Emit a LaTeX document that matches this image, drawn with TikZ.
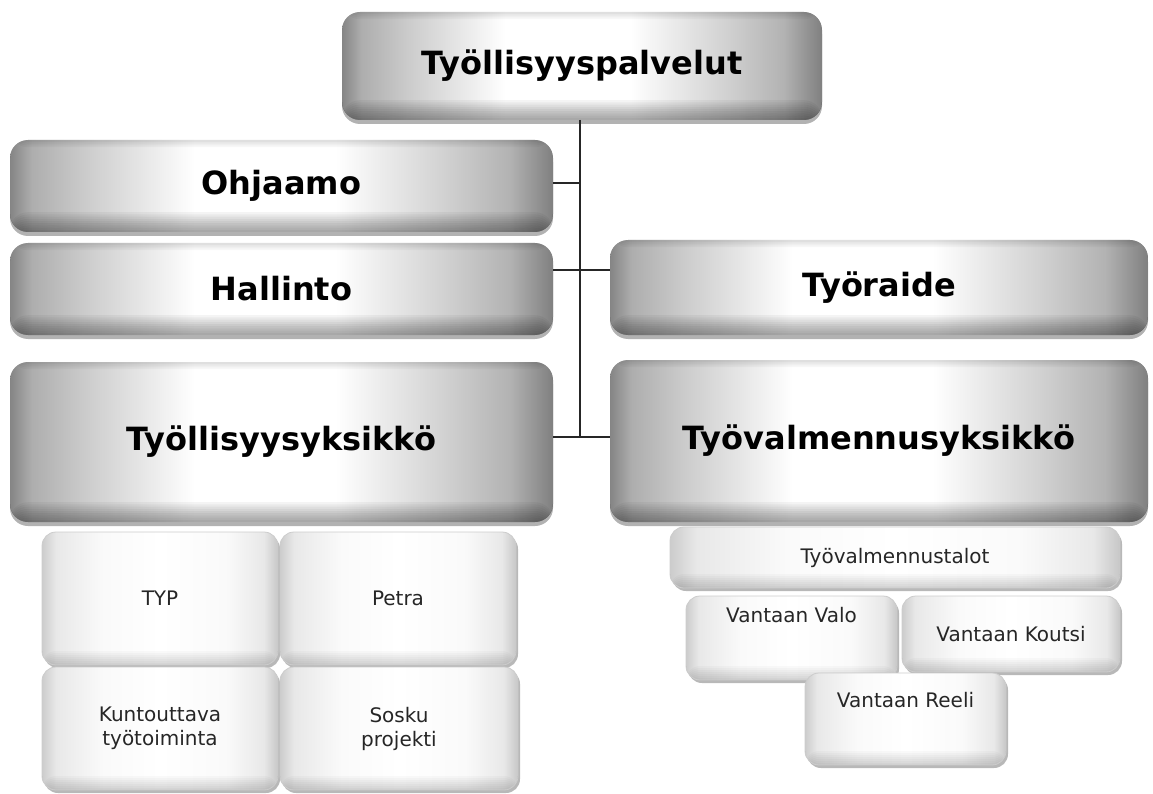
\documentclass[tikz,border=0pt]{standalone}
\usepackage{fontspec}
\setmainfont{DejaVu Sans}
\usetikzlibrary{shadows}
\pgfdeclarehorizontalshading{bigshade}{100bp}{color(0bp)=(black!48); color(25bp)=(black!48); color(27bp)=(black!32); color(32bp)=(black!20); color(42bp)=(white); color(55bp)=(white); color(65bp)=(black!18); color(71bp)=(black!30); color(75bp)=(black!50); color(100bp)=(black!50)}
\pgfdeclarehorizontalshading{smallshade}{100bp}{color(0bp)=(black!20); color(25bp)=(black!20); color(28bp)=(black!9); color(38bp)=(black!2); color(50bp)=(white); color(64bp)=(black!2); color(72bp)=(black!9); color(75bp)=(black!22); color(100bp)=(black!22)}
\begin{document}
\begin{tikzpicture}[x=1pt,y=-1pt,
  bigbox/.style={rounded corners=18pt, shade, shading=bigshade, draw=none,
    font=\bfseries\fontsize{32}{36}\selectfont, text=black,
    inner sep=0pt, outer sep=0pt,
    drop shadow={shadow xshift=0pt, shadow yshift=-4pt, opacity=.3, fill=black},
    path picture={\foreach \i in {1,...,9}{\fill[black, fill opacity=.045]
      (path picture bounding box.south west) rectangle ([yshift=\i*2.2pt]path picture bounding box.south east);}
      \foreach \i in {1,...,4}{\fill[black, fill opacity=.03]
      (path picture bounding box.north west) rectangle ([yshift=-\i*1.8pt]path picture bounding box.north east);}}},
  smallbox/.style={rounded corners=14pt, shade, shading=smallshade, draw=black!20, line width=.8pt,
    font=\fontsize{20}{24}\selectfont, text=black!85, align=center,
    inner sep=2pt, outer sep=0pt,
    drop shadow={shadow xshift=2pt, shadow yshift=-3pt, opacity=.28, fill=black},
    path picture={\foreach \i in {1,...,7}{\fill[black, fill opacity=.025]
      (path picture bounding box.south west) rectangle ([yshift=\i*2pt]path picture bounding box.south east);}}},
  conn/.style={draw=black!85, line width=1.6pt}]
\useasboundingbox (0,0) rectangle (1153,794);
\fill[white] (0,0) rectangle (1153,794);

% main boxes
\node[bigbox, minimum width=480pt, minimum height=108pt] (top) at (582,66) {Työllisyyspalvelut};
\node[bigbox, minimum width=543pt, minimum height=92pt] (ohj) at (281.5,186) {Ohjaamo};
\node[bigbox, minimum width=543pt, minimum height=92pt] (hal) at (281.5,289) {Hallinto};
\node[bigbox, minimum width=538pt, minimum height=95pt] (tyr) at (879,287.5) {Työraide};
\node[bigbox, minimum width=543pt, minimum height=160pt] (tys) at (281.5,442) {Työllisyysyksikkö};
\node[bigbox, minimum width=538pt, minimum height=162pt] (tyv) at (879,441) {Työvalmennusyksikkö};

% left sub boxes
\node[smallbox, minimum width=236pt, minimum height=133pt] (typ) at (160,598.5) {TYP};
\node[smallbox, minimum width=236pt, minimum height=133pt] (petra) at (398,598.5) {Petra};
\node[smallbox, minimum width=236pt, minimum height=123pt] (kunt) at (160,728.5) {Kuntouttava\\työtoiminta};
\node[smallbox, minimum width=238pt, minimum height=123pt] (sosku) at (399,728.5) {Sosku\\projekti};

% right sub boxes
\node[smallbox, minimum width=450pt, minimum height=61pt] (talot) at (895,557.5) {Työvalmennustalot};
\node[smallbox, minimum width=211pt, minimum height=84pt, text height=15pt, text depth=47pt] (valo) at (791.5,638) {Vantaan Valo};
\node[smallbox, minimum width=218pt, minimum height=76pt] (koutsi) at (1011,634) {Vantaan Koutsi};
\node[smallbox, minimum width=201pt, minimum height=92pt, text height=15pt, text depth=39pt] (reeli) at (905.5,719) {Vantaan Reeli};

% connectors
\coordinate (j0) at (580,183);
\coordinate (j1) at (580,270);
\coordinate (j2) at (580,437);
\draw[conn] (top.south -| j0) -- (j2);
\draw[conn] (ohj.east |- j0) -- (j0);
\draw[conn] (hal.east |- j1) -- (tyr.west |- j1);
\draw[conn] (tys.east |- j2) -- (tyv.west |- j2);
\end{tikzpicture}
\end{document}
